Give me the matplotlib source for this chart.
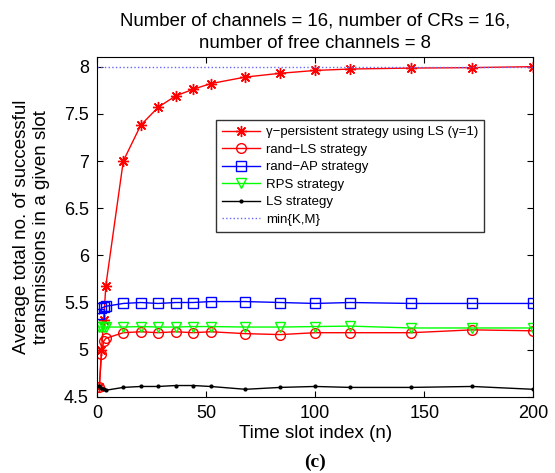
import numpy as np
import matplotlib.pyplot as plt
from matplotlib.ticker import FormatStrFormatter

plt.rcParams['font.family'] = ['Liberation Sans', 'DejaVu Sans']

# time slot indices where the curves were sampled
n = [1, 2, 3, 4, 12, 20, 28, 36, 44, 52, 68, 84, 100, 116, 144, 172, 200]

gamma_ls = [4.60, 5.00, 5.31, 5.68, 7.00, 7.38, 7.57, 7.69, 7.76, 7.82, 7.89,
            7.93, 7.96, 7.975, 7.985, 7.99, 8.0]
rand_ls = [4.60, 4.95, 5.09, 5.12, 5.18, 5.19, 5.18, 5.19, 5.18, 5.19, 5.17,
           5.16, 5.18, 5.18, 5.18, 5.21, 5.20]
rand_ap = [5.38, 5.44, 5.45, 5.46, 5.49, 5.50, 5.49, 5.50, 5.50, 5.51, 5.51,
           5.50, 5.49, 5.50, 5.49, 5.49, 5.49]
rps = [5.24, 5.24, 5.24, 5.24, 5.24, 5.245, 5.24, 5.24, 5.245, 5.245, 5.24,
       5.24, 5.245, 5.25, 5.23, 5.23, 5.23]
ls = [4.61, 4.59, 4.58, 4.57, 4.60, 4.61, 4.61, 4.62, 4.62, 4.61, 4.58,
      4.60, 4.61, 4.60, 4.60, 4.61, 4.58]
min_km = 8

fig = plt.figure(figsize=(5.55, 4.73), dpi=100)
ax = fig.add_axes([0.175, 0.161, 0.786, 0.718])

# matlab style asterisk marker
ax.plot(n, gamma_ls, color='red', marker=(8, 2, 0), ms=8, mew=1, lw=1,
        label='\u03b3\u2212persistent strategy using LS (\u03b3=1)')
ax.plot(n, rand_ls, color='red', marker='o', ms=7, mfc='none', lw=1,
        label='rand\u2212LS strategy')
ax.plot(n, rand_ap, color='blue', marker='s', ms=6.5, mfc='none', lw=1,
        label='rand\u2212AP strategy')
ax.plot(n, rps, color='#00ff00', marker='v', ms=7.5, mfc='none', lw=1,
        label='RPS strategy')
ax.plot(n, ls, color='black', marker='.', ms=4, lw=1, label='LS strategy')
ax.axhline(min_km, color='#6666ff', ls=':', lw=1, label='min{K,M}')

ax.set_xlim(0, 200)
ax.set_ylim(4.5, 8.1)
ax.set_xticks([0, 50, 100, 150, 200])
ax.set_yticks(np.arange(4.5, 8.01, 0.5))
ax.yaxis.set_major_formatter(FormatStrFormatter('%g'))
ax.tick_params(direction='in', top=True, right=True, labelsize=13, length=4,
               pad=6)

ax.set_xlabel('Time slot index (n)', fontsize=13.5, labelpad=2)
ax.set_ylabel('Average total no. of successful\ntransmissions in a given slot',
              fontsize=13.5, labelpad=10)
ax.set_title('Number of channels = 16, number of CRs = 16,\nnumber of free channels = 8',
             fontsize=13.4, pad=7, linespacing=1.35)

leg = ax.legend(loc='upper left', bbox_to_anchor=(0.273, 0.815), fontsize=9.5,
                frameon=True, fancybox=False, edgecolor='black',
                borderaxespad=0, handlelength=2.9, handletextpad=0.4,
                borderpad=0.45, labelspacing=0.4)
leg.get_frame().set_linewidth(1)

fig.text(0.568, 0.012, '(c)', fontsize=14, fontweight='bold',
         family='Liberation Serif', ha='center')

fig.savefig('out.png', dpi=100)
